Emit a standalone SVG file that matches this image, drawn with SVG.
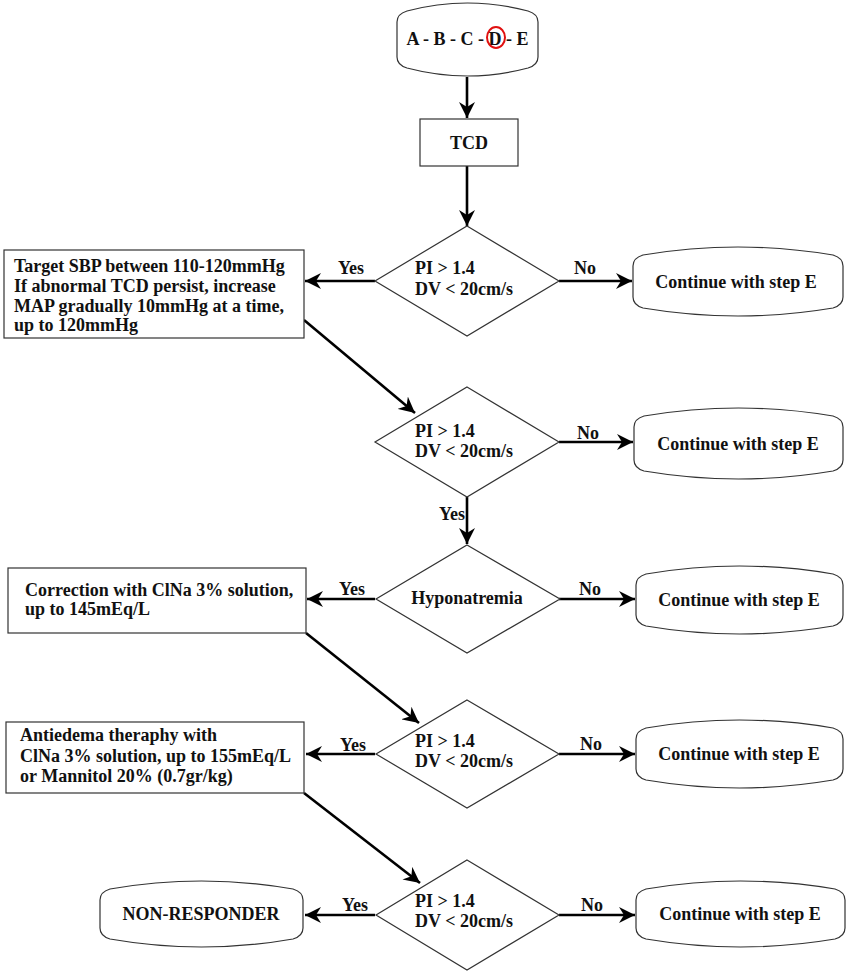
<svg xmlns="http://www.w3.org/2000/svg" width="850" height="972" viewBox="0 0 850 972">
<style>
.t{font-family:"Liberation Serif","Times New Roman",serif;font-weight:bold;font-size:18px;fill:#111}
.m{text-anchor:middle}
.box{fill:#fff;stroke:#333;stroke-width:1.2}
.c{fill:none;stroke:#000;stroke-width:2.6;marker-end:url(#ah)}
</style>
<defs>
<marker id="ah" markerUnits="userSpaceOnUse" markerWidth="17" markerHeight="16" refX="16" refY="8" orient="auto">
<path d="M0,0 L16,8 L0,16 L5,8 Z" fill="#000"/>
</marker>
</defs>
<rect width="850" height="972" fill="#fff"/>

<g id="connectors">
<line class="c" x1="467" y1="77" x2="467" y2="118"/>
<line class="c" x1="467" y1="166" x2="467" y2="226"/>
<line class="c" x1="375" y1="281" x2="305" y2="281"/>
<line class="c" x1="559" y1="281" x2="632" y2="281"/>
<line class="c" x1="304" y1="320" x2="415" y2="413"/>
<line class="c" x1="559" y1="442" x2="633" y2="442"/>
<line class="c" x1="467" y1="497" x2="467" y2="544"/>
<line class="c" x1="375" y1="599" x2="307" y2="599"/>
<line class="c" x1="559" y1="599" x2="635" y2="599"/>
<line class="c" x1="306" y1="633" x2="419" y2="723"/>
<line class="c" x1="375" y1="754" x2="306" y2="754"/>
<line class="c" x1="559" y1="754" x2="635" y2="754"/>
<line class="c" x1="304" y1="793" x2="420" y2="883"/>
<line class="c" x1="375" y1="915" x2="305" y2="915"/>
<line class="c" x1="559" y1="915" x2="635" y2="915"/>
<text class="t m" x="351" y="274">Yes</text>
<text class="t m" x="585" y="274">No</text>
<text class="t m" x="588" y="439">No</text>
<text class="t m" x="452" y="520">Yes</text>
<text class="t m" x="352" y="595">Yes</text>
<text class="t m" x="590" y="595">No</text>
<text class="t m" x="353" y="751">Yes</text>
<text class="t m" x="591" y="750">No</text>
<text class="t m" x="355" y="911">Yes</text>
<text class="t m" x="592" y="911">No</text>
</g>

<g id="start">
<path class="box" d="M397,22 Q397,14 407,11 Q467.5,-5 528,11 Q538,14 538,22 L538,57 Q538,65 528,68 Q467.5,84 407,68 Q397,65 397,57 Z"/>
<text class="t m" x="467.5" y="45">A - B - C - D - E</text>
<ellipse cx="496" cy="37.5" rx="9" ry="10.5" fill="none" stroke="#e01010" stroke-width="2"/>
</g>

<g id="tcd">
<rect class="box" x="420" y="119" width="98" height="47"/>
<text class="t m" x="469" y="149">TCD</text>
</g>

<g id="d1">
<polygon class="box" points="467,226 559,281 467,336 375,281"/>
<text class="t" x="415" y="274">PI &gt; 1.4</text>
<text class="t" x="415" y="295">DV &lt; 20cm/s</text>
</g>

<g id="target">
<rect class="box" x="4" y="250" width="300" height="88"/>
<text class="t" x="14" y="272">Target SBP between 110-120mmHg</text>
<text class="t" x="14" y="292">If abnormal TCD persist, increase</text>
<text class="t" x="14" y="312">MAP gradually 10mmHg at a time,</text>
<text class="t" x="14" y="331">up to 120mmHg</text>
</g>

<g id="c1">
<path class="box" d="M633,266 Q633,258 643,255 Q738,239 833,255 Q843,258 843,266 L843,297 Q843,305 833,308 Q738,324 643,308 Q633,305 633,297 Z"/>
<text class="t m" x="736" y="288">Continue with step E</text>
</g>

<g id="d2">
<polygon class="box" points="467,387 559,442 467,497 375,442"/>
<text class="t" x="415" y="437">PI &gt; 1.4</text>
<text class="t" x="415" y="457">DV &lt; 20cm/s</text>
</g>

<g id="c2">
<path class="box" d="M634,427 Q634,419 644,416 Q738.5,400 833,416 Q843,419 843,427 L843,460 Q843,468 833,471 Q738.5,487 644,471 Q634,468 634,460 Z"/>
<text class="t m" x="738" y="450">Continue with step E</text>
</g>

<g id="d3">
<polygon class="box" points="467,545 560,599 467,653 376,599"/>
<text class="t m" x="467" y="604">Hyponatremia</text>
</g>

<g id="correction">
<rect class="box" x="8" y="568" width="298" height="65"/>
<text class="t" x="25" y="596">Correction with ClNa 3% solution,</text>
<text class="t" x="25" y="615">up to 145mEq/L</text>
</g>

<g id="c3">
<path class="box" d="M636,585 Q636,577 646,574 Q739.5,558 833,574 Q843,577 843,585 L843,615 Q843,623 833,626 Q739.5,642 646,626 Q636,623 636,615 Z"/>
<text class="t m" x="739" y="606">Continue with step E</text>
</g>

<g id="d4">
<polygon class="box" points="467,700 559,754 467,808 376,754"/>
<text class="t" x="415" y="747">PI &gt; 1.4</text>
<text class="t" x="415" y="767">DV &lt; 20cm/s</text>
</g>

<g id="antiedema">
<rect class="box" x="6" y="722" width="298" height="71"/>
<text class="t" x="20" y="741">Antiedema theraphy with</text>
<text class="t" x="20" y="762">ClNa 3% solution, up to 155mEq/L</text>
<text class="t" x="20" y="782">or Mannitol 20% (0.7gr/kg)</text>
</g>

<g id="c4">
<path class="box" d="M636,739 Q636,731 646,728 Q739.5,712 833,728 Q843,731 843,739 L843,769 Q843,777 833,780 Q739.5,796 646,780 Q636,777 636,769 Z"/>
<text class="t m" x="739" y="760">Continue with step E</text>
</g>

<g id="d5">
<polygon class="box" points="467,860 559,915 467,970 376,915"/>
<text class="t" x="415" y="907">PI &gt; 1.4</text>
<text class="t" x="415" y="927">DV &lt; 20cm/s</text>
</g>

<g id="nonresponder">
<path class="box" d="M100,900 Q100,892 110,889 Q201.5,873 293,889 Q303,892 303,900 L303,928 Q303,936 293,939 Q201.5,955 110,939 Q100,936 100,928 Z"/>
<text class="t m" x="201" y="920">NON-RESPONDER</text>
</g>

<g id="c5">
<path class="box" d="M636,900 Q636,892 646,889 Q740.5,873 835,889 Q845,892 845,900 L845,928 Q845,936 835,939 Q740.5,955 646,939 Q636,936 636,928 Z"/>
<text class="t m" x="740" y="920">Continue with step E</text>
</g>
</svg>
